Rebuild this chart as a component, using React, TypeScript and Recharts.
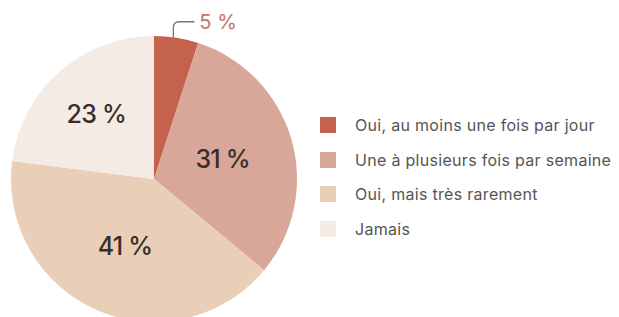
import { PieChart, Pie, Cell, Legend } from "recharts";

const categories = [
  "Oui, au moins une fois par jour",
  "Une à plusieurs fois par semaine",
  "Oui, mais très rarement",
  "Jamais",
];
const shares = [5, 31, 41, 23];
const colors = ["#c4624d", "#d9a799", "#e9cfb8", "#f4ebe5"];

const data = categories.map((name, i) => ({ name, value: shares[i] }));

const RADIAN = Math.PI / 180;
// where each inside label sits, as a fraction of the radius
const labelDist = [0, 0.5, 0.51, 0.61];

const renderLabel = (props: any) => {
  const { cx, cy, midAngle, outerRadius, index, value } = props;
  if (index === 0) {
    // small slice: label outside with a bent leader line
    const x0 = cx + outerRadius * Math.cos(-midAngle * RADIAN) - 3;
    const y0 = cy + outerRadius * Math.sin(-midAngle * RADIAN);
    const yTop = y0 - 16;
    return (
      <g>
        <path
          d={`M${x0},${y0} L${x0},${yTop + 6} Q${x0},${yTop} ${x0 + 6},${yTop} L${x0 + 21},${yTop}`}
          stroke="#8a6e68"
          strokeWidth={1.3}
          fill="none"
        />
        <text
          x={x0 + 26}
          y={yTop}
          fill="#c8735f"
          fontSize={20}
          fontFamily="Inter"
          dominantBaseline="central"
        >
          {value} %
        </text>
      </g>
    );
  }
  const r = outerRadius * labelDist[index];
  const x = cx + r * Math.cos(-midAngle * RADIAN);
  const y = cy + r * Math.sin(-midAngle * RADIAN);
  return (
    <text
      x={x}
      y={y}
      fill="#3a2d2a"
      fontSize={25}
      fontWeight={500}
      fontFamily="Inter"
      textAnchor="middle"
      dominantBaseline="central"
      letterSpacing={-0.8}
    >
      {value} %
    </text>
  );
};

const renderLegend = () => (
  <div style={{ fontFamily: "Inter", fontSize: 16, letterSpacing: 0.3, color: "#555" }}>
    {categories.map((c, i) => (
      <div key={c} style={{ display: "flex", alignItems: "center", height: 34.5 }}>
        <span
          style={{
            display: "inline-block",
            width: 16,
            height: 16,
            background: colors[i],
            marginRight: 19,
          }}
        />
        {c}
      </div>
    ))}
  </div>
);

export default function App() {
  return (
    <div style={{ background: "#fff" }}>
      <style>{`body{margin:0}`}</style>
      <PieChart width={619} height={317} margin={{ top: 0, right: 0, bottom: 0, left: 0 }}>
        <Pie
          data={data}
          dataKey="value"
          nameKey="name"
          cx={154}
          cy={179}
          outerRadius={143}
          startAngle={90}
          endAngle={-270}
          stroke="none"
          labelLine={false}
          label={renderLabel}
          isAnimationActive={false}
        >
          {data.map((d, i) => (
            <Cell key={d.name} fill={colors[i]} />
          ))}
        </Pie>
        <Legend
          content={renderLegend}
          wrapperStyle={{ left: 320, top: 108, width: 299 }}
        />
      </PieChart>
    </div>
  );
}
